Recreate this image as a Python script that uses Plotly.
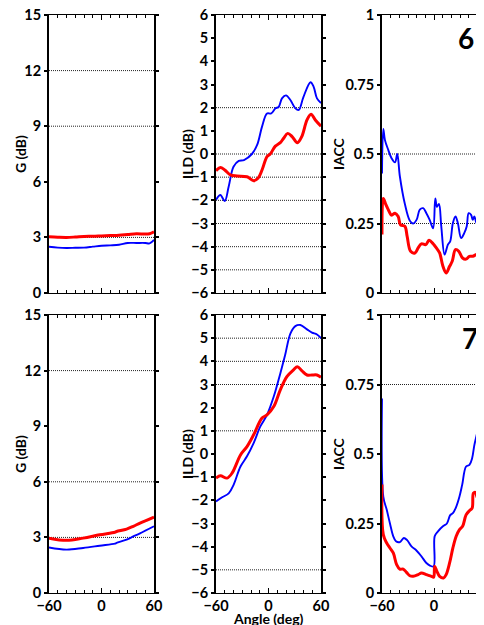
import plotly.graph_objects as go
from plotly.subplots import make_subplots

# ---------------- data ----------------
# Row 1 (case 6)
g6_ang = [-60, -50, -40, -30, -20, -10, 0, 10, 20, 30, 40, 50, 55, 60]
g6_red = [3.03, 3.01, 3.0, 3.02, 3.05, 3.06, 3.08, 3.1, 3.12, 3.16, 3.2, 3.18, 3.2, 3.3]
g6_blue = [2.5, 2.45, 2.43, 2.44, 2.45, 2.5, 2.55, 2.57, 2.6, 2.7, 2.7, 2.7, 2.68, 2.87]

ild6_blue_ang = [-60, -55, -50, -45.5, -40, -34, -28, -19, -13, -7.4, -1.7, 3, 8, 11.6, 15.4, 20, 25,
                 30.7, 34.5, 40, 48, 51.6, 55.4, 60]
ild6_blue = [-1.98, -1.77, -2.03, -1.4, -0.55, -0.3, -0.26, 0.0, 0.39, 1.18, 1.75, 1.75, 1.97, 2.03,
             2.4, 2.53, 2.33, 1.97, 1.9, 2.47, 3.1, 2.9, 2.4, 2.2]
ild6_red_ang = [-60, -55, -50, -43.6, -36, -24.6, -17, -12, -7.4, -1.7, 2, 7.8, 13.5, 17.3, 22, 27,
                33, 38, 44, 48.6, 53.5, 60]
ild6_red = [-0.72, -0.58, -0.69, -0.9, -0.95, -0.98, -1.15, -1.05, -0.69, -0.11, 0.0, 0.34, 0.49,
            0.68, 0.89, 0.75, 0.49, 0.75, 1.47, 1.72, 1.47, 1.2]

iacc6_blue_ang = [-60, -58.5, -56.6, -52.8, -49, -45, -42.4, -39.4, -33.6, -27.9, -24, -20, -16.4,
                  -12.5, -8.8, -5, -1, 1.5, 3.4, 5.7, 8.4, 12.2, 16, 18.7, 21.8, 24.8, 27.5, 31.3,
                  35, 37.8, 40, 42.8, 44.7, 46.6, 49.3, 51.6, 54.3, 56, 58, 60]
iacc6_blue = [0.43, 0.59, 0.55, 0.515, 0.485, 0.47, 0.50, 0.42, 0.32, 0.26, 0.25, 0.264, 0.30,
              0.305, 0.287, 0.263, 0.233, 0.34, 0.31, 0.32, 0.24, 0.138, 0.174, 0.186, 0.252,
              0.275, 0.252, 0.198, 0.216, 0.24, 0.287, 0.281, 0.263, 0.275, 0.25, 0.255, 0.24,
              0.31, 0.3, 0.28]
iacc6_red_ang = [-60, -58.5, -55.8, -52.8, -49, -45, -41.3, -38.6, -33.6, -31, -27, -22, -18.3,
                 -14.5, -9.5, -5.7, -1, 2.7, 6.5, 10.3, 14, 18, 21, 24.8, 28.6, 33, 37, 40.9,
                 44.7, 48.5, 51.6, 54.3, 57, 60]
iacc6_red = [0.21, 0.34, 0.32, 0.30, 0.28, 0.287, 0.275, 0.245, 0.24, 0.204, 0.15, 0.144, 0.162,
             0.177, 0.174, 0.19, 0.177, 0.162, 0.144, 0.096, 0.072, 0.096, 0.114, 0.156, 0.15,
             0.126, 0.122, 0.132, 0.132, 0.138, 0.141, 0.13, 0.132, 0.13]

# Row 2 (case 7)
g7_ang = [-60, -40, -21, -2, 15.3, 17.2, 28.7, 36.3, 44, 60]
g7_red = [2.96, 2.84, 2.96, 3.14, 3.28, 3.32, 3.45, 3.6, 3.77, 4.1]
g7_blue = [2.46, 2.34, 2.43, 2.55, 2.66, 2.7, 2.88, 3.05, 3.22, 3.6]

ild7_blue_ang = [-60, -53, -45.5, -40, -32, -24.6, -17, -9.3, -1.7, 6, 13.5, 19, 25, 30.7, 36.4,
                 44, 49.7, 55.4, 60]
ild7_blue = [-2.05, -1.87, -1.7, -1.34, -0.54, -0.1, 0.47, 1.19, 1.69, 2.48, 3.48, 4.27, 5.2, 5.52,
             5.57, 5.38, 5.24, 5.16, 5.0]
ild7_red_ang = [-60, -55, -47.4, -41.7, -32, -24.6, -17, -7.4, -1.7, 6, 13.5, 21, 28.6, 33, 38, 44,
                49.7, 55.4, 60]
ild7_red = [-1.04, -0.94, -1.04, -0.83, -0.04, 0.32, 0.83, 1.55, 1.69, 2.05, 2.77, 3.34, 3.63,
            3.77, 3.6, 3.41, 3.41, 3.41, 3.31]

iacc7_blue_ang = [-60, -58.5, -54.6, -50.8, -47, -43.9, -39.4, -34.8, -31, -26, -20.3, -14.5, -8.8,
                  -4.2, -0.4, 0.8, 4.6, 10.3, 14.9, 18.7, 21.8, 25.6, 29.4, 32.5, 37, 40.9, 44,
                  46.6, 49.3, 52.3, 55.4, 57, 60]
iacc7_blue = [0.70, 0.347, 0.30, 0.25, 0.204, 0.186, 0.183, 0.198, 0.19, 0.168, 0.153, 0.132, 0.108,
              0.098, 0.096, 0.204, 0.222, 0.24, 0.25, 0.28, 0.287, 0.31, 0.347, 0.389, 0.455,
              0.461, 0.485, 0.533, 0.569, 0.611, 0.659, 0.67, 0.7]
iacc7_red_ang = [-60, -58.5, -54.6, -50.8, -47, -43.1, -39.4, -35.5, -31.7, -27.9, -24, -18.3,
                 -14.5, -8.8, -3, -0.4, 0.8, 3.4, 6.5, 11, 14, 18, 21.8, 25.6, 29.4, 33, 37, 40.9,
                 44, 45.5, 47.8, 50.4, 53, 57, 60]
iacc7_red = [0.39, 0.21, 0.18, 0.162, 0.144, 0.102, 0.086, 0.086, 0.074, 0.062, 0.06, 0.066, 0.072,
             0.066, 0.06, 0.057, 0.096, 0.078, 0.06, 0.054, 0.066, 0.108, 0.162, 0.204, 0.228,
             0.24, 0.281, 0.296, 0.305, 0.359, 0.362, 0.341, 0.347, 0.362, 0.36]

# dotted reference lines per panel
grid6_g = [3, 9, 12]
grid6_ild = [2, 0, -1, -2, -3, -4, -5]
grid6_iacc = [0.25, 0.5]
grid7_g = [3, 6, 12]
grid7_ild = [5, 4, 3, 1, -5]
grid7_iacc = [0.75]

panel_labels = ["6", "7"]
x_ticks = [-60, 0, 60]
iacc_ticks = [0, 0.25, 0.5, 0.75, 1]
iacc_ticktext = ["0", "0.25", "0.5", "0.75", "1"]

RED = "#ff0000"
BLUE = "#0000ff"

W, H = 484, 625
OFF = 8  # page body margin offset
fig = make_subplots(rows=2, cols=3)

panels = [
    (1, 1, g6_ang, g6_blue, g6_ang, g6_red),
    (1, 2, ild6_blue_ang, ild6_blue, ild6_red_ang, ild6_red),
    (1, 3, iacc6_blue_ang, iacc6_blue, iacc6_red_ang, iacc6_red),
    (2, 1, g7_ang, g7_blue, g7_ang, g7_red),
    (2, 2, ild7_blue_ang, ild7_blue, ild7_red_ang, ild7_red),
    (2, 3, iacc7_blue_ang, iacc7_blue, iacc7_red_ang, iacc7_red),
]
for r, c, bx, by, rx, ry in panels:
    fig.add_trace(go.Scatter(x=bx, y=by, mode="lines", line=dict(color=BLUE, width=1.9),
                             showlegend=False, line_shape="spline"), row=r, col=c)
    fig.add_trace(go.Scatter(x=rx, y=ry, mode="lines", line=dict(color=RED, width=3),
                             showlegend=False, line_shape="spline"), row=r, col=c)


def px(x):
    return (x - OFF) / W


def py(y):
    return 1 - (y - OFF) / H


col_dom = {1: [px(49), px(154)], 2: [px(216), px(321)], 3: [px(382), px(486)]}
row_dom = {1: [py(293), py(15)], 2: [py(593), py(315)]}

font = dict(family="Lato", size=14.5, color="black", weight="bold")

for r, c, *_rest in panels:
    fig.update_xaxes(
        domain=col_dom[c], range=[-60, 60], showline=True, linecolor="black", linewidth=1,
        mirror="ticks", ticks="inside", ticklen=5, tickcolor="black", tickwidth=1,
        tickvals=x_ticks, showticklabels=(r == 2), showgrid=False, zeroline=False,
        minor=dict(dtick=10, tick0=0, ticks="inside", ticklen=3, tickcolor="black", showgrid=False),
        tickfont=font, automargin=False, ticklabeloverflow="allow", row=r, col=c)
    ykw = dict(domain=row_dom[r], showline=True, linecolor="black", linewidth=2,
               mirror=("ticks" if c != 3 else False), ticks="outside", ticklen=3,
               tickcolor="black", tickwidth=1.5, showgrid=False, zeroline=False,
               tickfont=font, automargin=False, ticklabeloverflow="allow")
    if c == 1:
        ykw.update(range=[0, 15], tickvals=[0, 3, 6, 9, 12, 15])
    elif c == 2:
        ykw.update(range=[-6, 6], tickvals=list(range(-6, 7)))
    else:
        ykw.update(range=[0, 1], tickvals=iacc_ticks, ticktext=iacc_ticktext)
    fig.update_yaxes(row=r, col=c, **ykw)

grids = {1: grid6_g, 2: grid6_ild, 3: grid6_iacc, 4: grid7_g, 5: grid7_ild, 6: grid7_iacc}
for idx, vals in grids.items():
    xs = "x" if idx == 1 else f"x{idx}"
    ys = "y" if idx == 1 else f"y{idx}"
    for v in vals:
        fig.add_shape(type="line", xref=f"{xs} domain", yref=ys, x0=0, x1=1, y0=v, y1=v,
                      line=dict(color="#222222", width=1, dash="1px,1px"), layer="below")

tfont = dict(family="Lato", size=14, color="black", weight="bold")
ann = []
ytitles = [("G (dB)", 20), ("ILD (dB)", 187), ("IACC", 338)]
for r in (1, 2):
    yc = (row_dom[r][0] + row_dom[r][1]) / 2
    for text, xx in ytitles:
        ann.append(dict(text=text, x=px(xx), y=yc, xref="paper", yref="paper", showarrow=False,
                        textangle=-90, font=tfont, xanchor="center", yanchor="middle"))
big = dict(family="Lato", size=28, color="black", weight="bold")
ann.append(dict(text=panel_labels[0], x=px(466), y=py(38), xref="paper", yref="paper",
                showarrow=False, font=big, xanchor="center", yanchor="middle"))
ann.append(dict(text=panel_labels[1], x=px(470), y=py(338), xref="paper", yref="paper",
                showarrow=False, font=big, xanchor="center", yanchor="middle"))
ann.append(dict(text="Angle (deg)", x=px(268), y=py(618), xref="paper", yref="paper",
                showarrow=False, font=tfont, xanchor="center", yanchor="middle"))

fig.update_layout(width=W, height=H, margin=dict(l=0, r=0, t=0, b=0),
                  paper_bgcolor="white", plot_bgcolor="white", annotations=ann, font=font,
                  showlegend=False)

fig.write_html("out.html")
